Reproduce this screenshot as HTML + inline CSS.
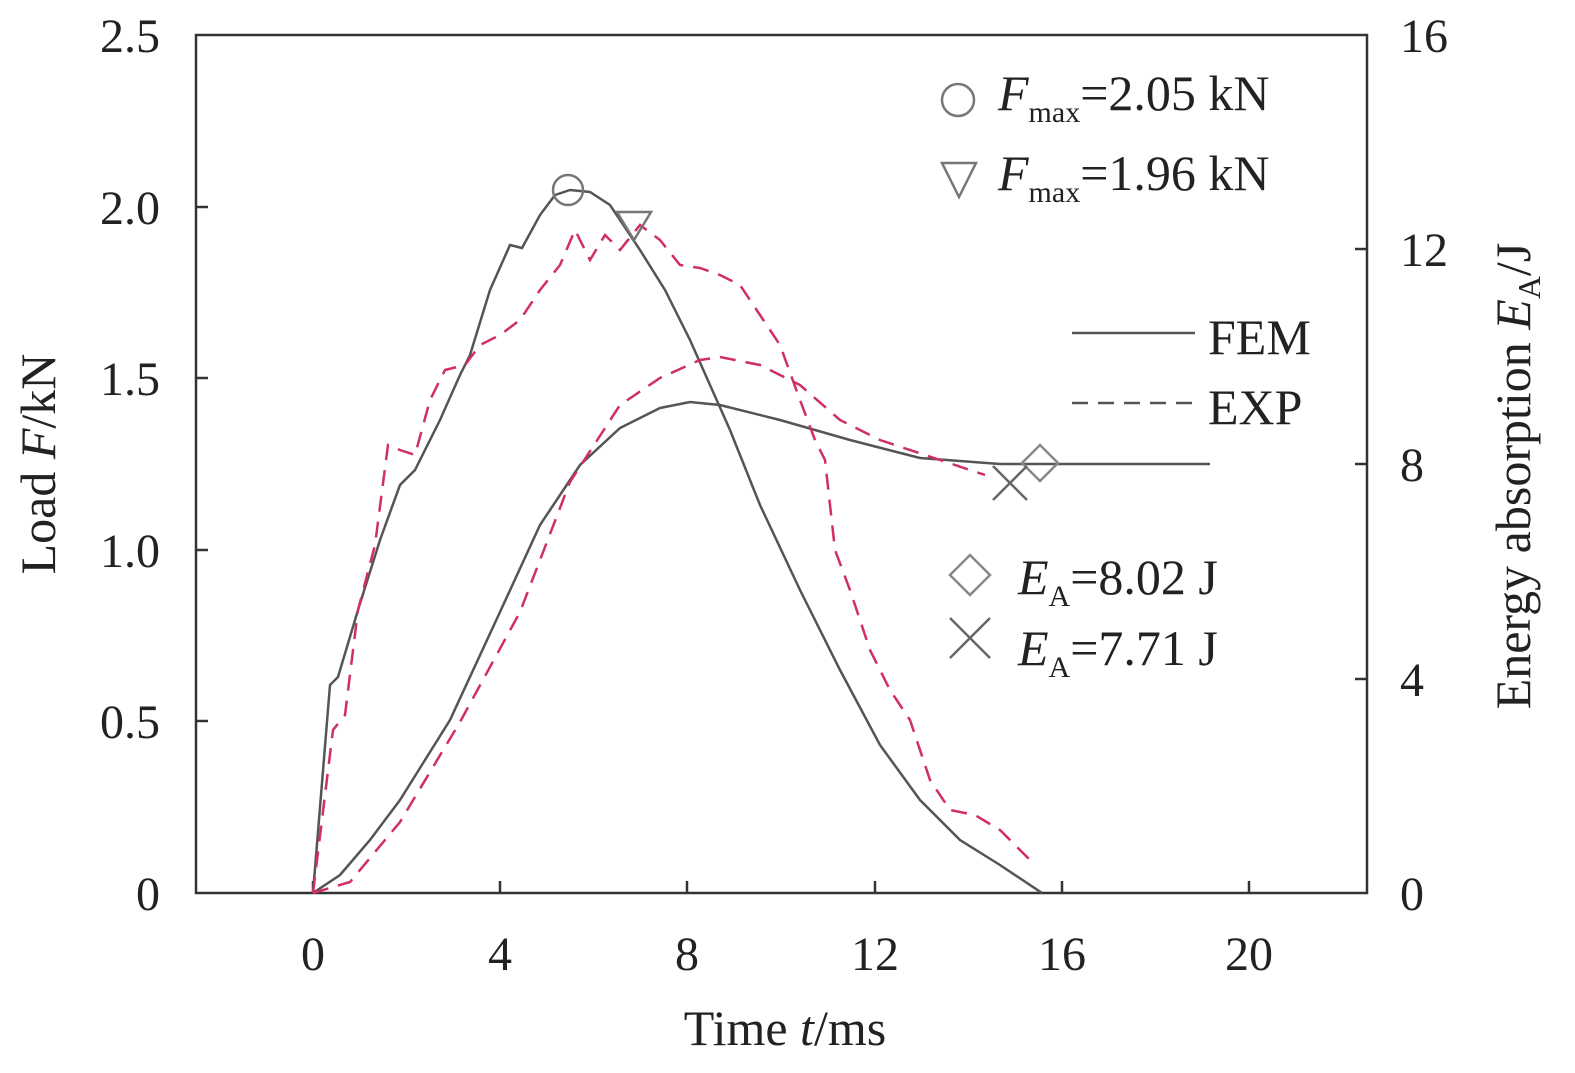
<!DOCTYPE html>
<html><head><meta charset="utf-8"><style>
html,body{margin:0;padding:0;background:#fff}
svg{display:block}
text{font-family:"Liberation Serif",serif;fill:#222}
</style></head><body>
<svg width="1575" height="1073" viewBox="0 0 1575 1073" xmlns="http://www.w3.org/2000/svg">
<rect width="1575" height="1073" fill="#fff"/>
<rect x="196" y="35" width="1171" height="858" fill="none" stroke="#333" stroke-width="2.5"/>
<g stroke="#333" stroke-width="2.5">
<line x1="313" y1="893" x2="313" y2="881"/><line x1="500" y1="893" x2="500" y2="881"/><line x1="687" y1="893" x2="687" y2="881"/><line x1="875" y1="893" x2="875" y2="881"/><line x1="1062" y1="893" x2="1062" y2="881"/><line x1="1249" y1="893" x2="1249" y2="881"/>
<line x1="196" y1="721" x2="208" y2="721"/><line x1="196" y1="550" x2="208" y2="550"/><line x1="196" y1="378" x2="208" y2="378"/><line x1="196" y1="207" x2="208" y2="207"/>
<line x1="1367" y1="679" x2="1355" y2="679"/><line x1="1367" y1="464" x2="1355" y2="464"/><line x1="1367" y1="249" x2="1355" y2="249"/>
</g>
<g font-size="48" text-anchor="middle">
<text x="313" y="970">0</text><text x="500" y="970">4</text><text x="687" y="970">8</text><text x="875" y="970">12</text><text x="1062" y="970">16</text><text x="1249" y="970">20</text>
</g>
<g font-size="48" text-anchor="end">
<text x="160" y="910">0</text><text x="160" y="738">0.5</text><text x="160" y="567">1.0</text><text x="160" y="395">1.5</text><text x="160" y="224">2.0</text><text x="160" y="52">2.5</text>
</g>
<g font-size="48" text-anchor="start">
<text x="1400" y="910">0</text><text x="1400" y="696">4</text><text x="1400" y="481">8</text><text x="1400" y="266">12</text><text x="1400" y="52">16</text>
</g>
<text x="785" y="1045" font-size="50" text-anchor="middle">Time <tspan font-style="italic">t</tspan>/ms</text>
<text transform="translate(55,464) rotate(-90)" font-size="50" text-anchor="middle">Load <tspan font-style="italic">F</tspan>/kN</text>
<text transform="translate(1530,476) rotate(-90)" font-size="50" text-anchor="middle">Energy absorption <tspan font-style="italic">E</tspan><tspan font-size="32" dy="10">A</tspan><tspan dy="-10">/J</tspan></text>
<g fill="none" stroke-width="2.5">
<polyline stroke="#555" points="313,893 330,685 338,677 358,610 380,540 400,485 415,470 440,420 460,375 470,355 490,290 510,245 522,248 540,215 555,195 570,190 590,192 610,205 640,250 665,290 690,340 710,385 730,430 760,505 800,590 840,670 880,745 920,800 960,840 1000,865 1042,893"/>
<polyline stroke="#555" points="313,893 340,875 370,840 400,800 450,720 500,612 540,525 580,465 620,428 660,408 690,402 720,405 780,420 850,440 920,458 1000,464 1210,464"/>
<polyline stroke="#d0305f" stroke-dasharray="16,10" points="313,893 333,730 345,715 358,610 375,545 388,445 400,450 415,455 430,400 445,370 465,365 480,345 500,335 520,320 540,290 560,265 575,230 590,260 605,235 620,250 640,225 660,240 680,265 700,268 720,275 740,285 760,315 780,345 800,400 815,440 825,460 835,550 850,590 870,650 890,690 910,720 930,780 950,810 975,815 1000,830 1030,860"/>
<polyline stroke="#d0305f" stroke-dasharray="16,10" points="313,893 350,882 400,822 460,722 520,612 570,482 620,405 660,378 700,360 720,357 760,365 800,385 840,420 880,440 940,460 985,475"/>
<circle cx="568" cy="190" r="15" stroke="#777"/>
<polygon points="617,212 651,212 634,240" stroke="#777"/>
<polygon points="1040,445 1058,463 1040,481 1022,463" stroke="#888"/>
<path d="M993,466 L1027,500 M1027,466 L993,500" stroke="#666"/>
<circle cx="958" cy="100" r="16" stroke="#777"/>
<polygon points="942,163 976,163 959,197" stroke="#777"/>
<polygon points="970,555 990,575 970,595 950,575" stroke="#888"/>
<path d="M950,618 L990,658 M990,618 L950,658" stroke="#666"/>
<line x1="1072" y1="333" x2="1195" y2="333" stroke="#555"/>
<line x1="1072" y1="403" x2="1195" y2="403" stroke="#555" stroke-dasharray="16,10"/>
</g>
<g font-size="50">
<text x="998" y="110"><tspan font-style="italic">F</tspan><tspan font-size="30" dy="12">max</tspan><tspan dy="-12">=2.05 kN</tspan></text>
<text x="998" y="190"><tspan font-style="italic">F</tspan><tspan font-size="30" dy="12">max</tspan><tspan dy="-12">=1.96 kN</tspan></text>
<text x="1208" y="354">FEM</text>
<text x="1208" y="424">EXP</text>
<text x="1018" y="594"><tspan font-style="italic">E</tspan><tspan font-size="30" dy="12">A</tspan><tspan dy="-12">=8.02 J</tspan></text>
<text x="1018" y="665"><tspan font-style="italic">E</tspan><tspan font-size="30" dy="12">A</tspan><tspan dy="-12">=7.71 J</tspan></text>
</g>
</svg>
</body></html>
